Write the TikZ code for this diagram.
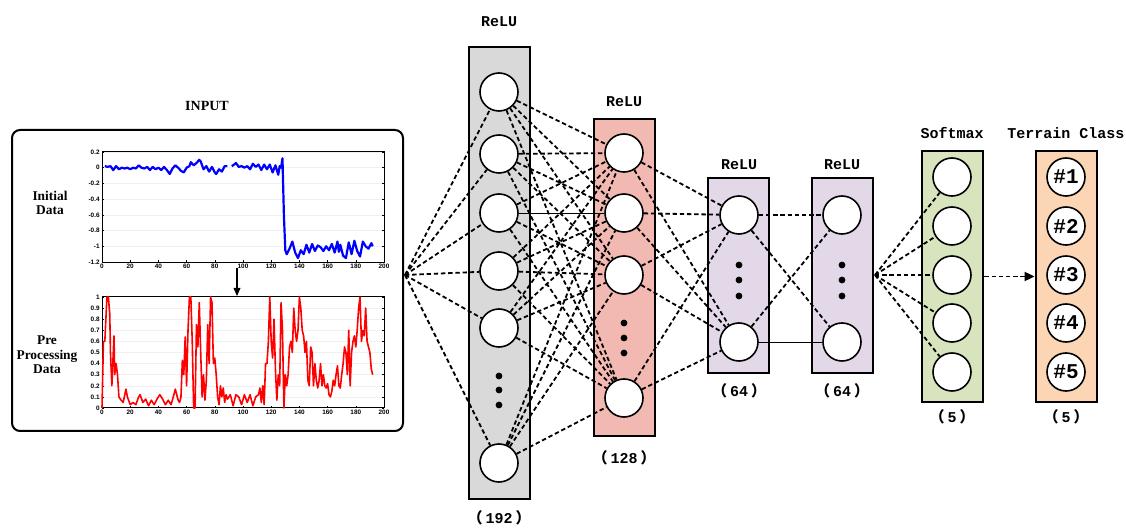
\documentclass[tikz,border=0pt]{standalone}
\usepackage{fontspec}
\setmainfont{Liberation Serif}
\newfontfamily\monofont{Liberation Mono}
\newfontfamily\cjkfont{Noto Sans CJK SC}
\newfontfamily\tickfont{Liberation Sans}
\usetikzlibrary{arrows.meta}

\definecolor{layergray}{RGB}{217,217,217}
\definecolor{layerpink}{RGB}{242,184,178}
\definecolor{layerpurple}{RGB}{226,216,232}
\definecolor{layergreen}{RGB}{215,228,189}
\definecolor{layerorange}{RGB}{252,213,180}

% layer size in full-width brackets
\newcommand{\units}[1]{{\cjkfont （}\hspace{0.2em}#1\hspace{0.2em}{\cjkfont ）}}

\begin{document}
\begin{tikzpicture}[x=0.5pt,y=-0.5pt,
    layer/.style={draw=black, line width=1.4pt, minimum width=30.5pt, inner sep=0pt},
    neuron/.style={circle, draw=black, line width=0.8pt, fill=white, minimum size=19pt, inner sep=0pt},
    link/.style={line width=0.9pt, dash pattern=on 2.2pt off 1.4pt},
    wire/.style={line width=0.45pt},
    lbl/.style={font=\monofont\bfseries\fontsize{7.5}{8}\selectfont},
    side/.style={font=\bfseries\fontsize{6.7}{7.2}\selectfont, align=center},
    tick/.style={font=\tickfont\bfseries\fontsize{3.2}{3.5}\selectfont, inner sep=1pt}]
    \useasboundingbox (0,0) rectangle (1126,529);
    %\draw[help lines,step=50] (0,0) grid (1126,529); % Only for Development

    % ---------------- input panel ----------------
    \node[side, font=\bfseries\fontsize{7}{8}\selectfont] (inputlbl) at (207,106) {INPUT};
    \node[draw=black, line width=1pt, rounded corners=4pt,
      minimum width=195.5pt, minimum height=150.5pt] (inputbox) at (207.5,280.5) {};
    \node[side] (initlbl) at (50,203) {Initial\\Data};
    \node[side] (prelbl) at (47,355) {Pre\\Processing\\Data};

    % raw signal
    \begin{scope}[shift={(102,167.7)}, xscale=1.41, yscale=-78.6]
      \foreach \v in {0.2,0,-0.2,-0.4,-0.6,-0.8,-1,-1.2}
        \draw[gray!12, line width=0.3pt] (0,\v) -- (200,\v);
      \foreach \v/\t in {0.2/0.2, 0/0, -0.2/-0.2, -0.4/-0.4, -0.6/-0.6, -0.8/-0.8, -1/-1, -1.2/-1.2}{
        \draw[line width=0.3pt] (0,\v) -- (1.4,\v) (200,\v) -- (198.6,\v);
        \node[tick, anchor=east] at (0,\v) {\t};
      }
      \foreach \u in {0,20,...,200}{
        \draw[line width=0.3pt] (\u,-1.2) -- (\u,-1.175);
        \node[tick, anchor=north] at (\u,-1.2) {\u};
      }
      \draw[line width=0.5pt] (0,-1.2) rectangle (200,0.2);
      \draw[blue, line width=1.1pt, line join=round] plot coordinates {
        (2,0.02) (4,0.01) (6,0.02) (8,-0.03) (10,0.02) (12,-0.02) (14,0) (16,-0.01)
        (18,0) (20,-0.02) (22,0) (24,-0.01) (26,0.03) (28,0) (30,-0.01) (32,0.01)
        (34,-0.03) (36,0.01) (38,-0.02) (40,0) (42,-0.03) (44,0.01) (46,-0.03) (48,-0.08)
        (50,-0.01) (52,0.03) (54,0) (56,-0.04) (58,-0.06) (60,0) (62,0.02) (63,0.07)
        (65,0.03) (67,0.06) (69,0.1) (70,0.08) (72,-0.02) (74,0.02) (76,-0.05) (78,0.01)
        (80,-0.06) (81,-0.08) (83,-0.02) (85,-0.05) (87,0.02) (89,0.02)};
      \draw[blue, line width=1.1pt, line join=round] plot coordinates {
        (92,0.02) (93,0.03) (95,0.06) (97,0.01) (99,0.02) (101,0) (103,0.02) (105,-0.02)
        (107,0.05) (109,0.01) (111,0.04) (113,-0.03) (115,0.04) (117,-0.02) (119,0.04)
        (121,-0.06) (123,0.03) (125,-0.09) (126,0.02) (127,0) (128,0.12) (129,-0.6)
        (130,-1.05) (131,-1.1) (133,-1.03) (135,-0.94) (137,-1.08) (139,-1.15) (141,-1.05)
        (143,-1.1) (145,-0.98) (147,-1.08) (149,-0.97) (151,-1.06) (153,-0.99) (155,-1.01)
        (157,-1.06) (159,-1) (161,-1.05) (163,-0.97) (165,-1.08) (167,-0.94) (168,-1.07)
        (169,-0.98) (171,-1.12) (173,-1.15) (175,-0.95) (177,-1.1) (179,-0.93) (181,-1.06)
        (183,-1.13) (185,-0.94) (187,-1) (189,-1.03) (191,-0.96) (192,-1)};
    \end{scope}

    \coordinate (plotA) at (237,268);
    \coordinate (plotB) at (237,296);
    \draw[line width=0.6pt, -{Triangle[length=4pt,width=3.4pt]}] (plotA) -- (plotB);

    % normalised signal
    \begin{scope}[shift={(102,408)}, xscale=1.41, yscale=-111]
      \foreach \v in {0.1,0.2,...,0.9}
        \draw[gray!12, line width=0.3pt] (0,\v) -- (200,\v);
      \foreach \v in {0,0.1,0.2,0.3,0.4,0.5,0.6,0.7,0.8,0.9,1}{
        \draw[line width=0.3pt] (0,\v) -- (1.4,\v) (200,\v) -- (198.6,\v);
        \node[tick, anchor=east] at (0,\v) {\v};
      }
      \foreach \u in {0,20,...,200}{
        \draw[line width=0.3pt] (\u,0) -- (\u,0.018);
        \node[tick, anchor=north] at (\u,0) {\u};
      }
      \draw[line width=0.5pt] (0,0) rectangle (200,1);
      \draw[red, line width=0.8pt, line join=round] plot coordinates {
        (0,0) (1,0.6) (2,0.6) (3.5,1) (4.5,1) (5.5,0.85) (6,0.5) (7,0.2) (8,0.5) (8.5,0.65)
        (9,0.3) (10,0.4) (11,0.3) (12,0.1) (13,0.08) (15,0.05) (17,0.17) (18,0.1) (20,0.03)
        (22,0.05) (24,0.03) (26,0.1) (27,0.12) (29,0.05) (31,0.08) (33,0.02) (35,0.07)
        (37,0.03) (39,0.08) (41,0.12) (43,0.08) (45,0.03) (47,0.07) (49,0.03) (51,0.12)
        (52,0.17) (54,0.07) (55,0.05) (56,0.1) (57,0.43) (58,0.3) (59,0.64) (60,0.2)
        (61,0.7) (62,1) (63,1) (64,0.6) (65,0) (66,0) (67,0.75) (68,0.55) (69,0.95)
        (70,0.5) (71,0.1) (72,0.3) (73,0.07) (74,0.25) (75,0.75) (76,0.4) (77,1) (78,0.95)
        (79,0.4) (80,0.45) (81,0.3) (82,0.1) (83,0.03) (84,0.2) (85,0.1) (86,0.18)
        (87,0.05) (88,0.12) (89,0.08) (91,0.12) (93,0.02) (95,0.12) (97,0.1) (99,0.03)
        (101,0.12) (103,0.05) (105,0.12) (107,0.02) (109,0.1) (111,0.12) (112,0.18)
        (113,0.05) (114,0.2) (115,0.03) (116,0.4) (117,0.4) (118,0.6) (119,1) (120,0.6)
        (121,0.45) (122,0.8) (123,0.35) (124,0.07) (125,0.3) (126,0.2) (127,0.95)
        (128,0.7) (129,0) (130,0.3) (131,0.2) (132,0.3) (133,0.55) (134,0.6) (135,0.5)
        (136,0.9) (137,0.7) (138,0.6) (139,0.7) (140,1) (141,0.9) (142,0.7) (143,0.65)
        (144,0.5) (145,0.6) (146,0.25) (147,0.2) (148,0.55) (149,0.5) (150,0.2) (151,0.4)
        (152,0.25) (153,0.18) (154,0.25) (155,0.4) (156,0.2) (157,0.3) (158,0.2)
        (159,0.18) (160,0.22) (161,0.12) (162,0.1) (163,0.15) (164,0.25) (165,0.2)
        (166,0.3) (167,0.38) (168,0.2) (169,0.18) (170,0.3) (171,0.4) (172,0.55)
        (173,0.5) (174,0.3) (175,0.7) (176,0.2) (177,0.5) (178,0.6) (179,0.65) (180,0.55)
        (181,0.7) (182,0.9) (183,1) (184,0.6) (185,0.7) (186,0.65) (187,0.9) (188,0.6)
        (189,0.55) (190,0.5) (191,0.35) (192,0.3)};
    \end{scope}

    % ---------------- layers ----------------
    \node[layer, fill=layergray, minimum height=226pt] (box1) at (499.5,273) {};
    \node[layer, fill=layerpink, minimum height=158.5pt] (box2) at (624.5,277.5) {};
    \node[layer, fill=layerpurple, minimum height=97.5pt] (box3) at (738.5,275.5) {};
    \node[layer, fill=layerpurple, minimum height=97.5pt] (box4) at (842.5,275.5) {};
    \node[layer, fill=layergreen, minimum height=125.5pt] (box5) at (952.5,276.5) {};
    \node[layer, fill=layerorange, minimum height=125.5pt] (box6) at (1066.5,276.5) {};

    \node[lbl] (act1) at (499,22) {ReLU};
    \node[lbl] (act2) at (624,102) {ReLU};
    \node[lbl] (act3) at (739,165) {ReLU};
    \node[lbl] (act4) at (842,165) {ReLU};
    \node[lbl] (act5) at (952,133) {Softmax};
    \node[lbl] (act6) at (1066,133) {Terrain Class};

    \node[lbl] (size1) at (499,518) {\units{192}};
    \node[lbl] (size2) at (624,458) {\units{128}};
    \node[lbl] (size3) at (739,391) {\units{64}};
    \node[lbl] (size4) at (842,391) {\units{64}};
    \node[lbl] (size5) at (952,417) {\units{5}};
    \node[lbl] (size6) at (1066,417) {\units{5}};

    % neurons
    \node[neuron] (a1) at (499,92) {};
    \node[neuron] (a2) at (499,154) {};
    \node[neuron] (a3) at (499,213) {};
    \node[neuron] (a4) at (499,271) {};
    \node[neuron] (a5) at (499,328) {};
    \node[neuron] (a6) at (499,463) {};
    \fill (499,376) circle (1.7pt) (499,390) circle (1.7pt) (499,405) circle (1.7pt);

    \node[neuron] (b1) at (624,153) {};
    \node[neuron] (b2) at (624,213) {};
    \node[neuron] (b3) at (624,275) {};
    \node[neuron] (b4) at (624,398) {};
    \fill (624,323) circle (1.7pt) (624,338) circle (1.7pt) (624,353) circle (1.7pt);

    \node[neuron] (c1) at (739,215) {};
    \node[neuron] (c2) at (739,342) {};
    \fill (739,265) circle (1.7pt) (739,280) circle (1.7pt) (739,296) circle (1.7pt);

    \node[neuron] (d1) at (842,215) {};
    \node[neuron] (d2) at (842,342) {};
    \fill (842,265) circle (1.7pt) (842,280) circle (1.7pt) (842,296) circle (1.7pt);

    \node[neuron] (e1) at (952,177) {};
    \node[neuron] (e2) at (952,226) {};
    \node[neuron] (e3) at (952,275) {};
    \node[neuron] (e4) at (952,323) {};
    \node[neuron] (e5) at (952,372) {};

    \node[neuron, font=\monofont\bfseries\fontsize{10.5}{11}\selectfont] (f1) at (1066,177) {\#1};
    \node[neuron, font=\monofont\bfseries\fontsize{10.5}{11}\selectfont] (f2) at (1066,226) {\#2};
    \node[neuron, font=\monofont\bfseries\fontsize{10.5}{11}\selectfont] (f3) at (1066,275) {\#3};
    \node[neuron, font=\monofont\bfseries\fontsize{10.5}{11}\selectfont] (f4) at (1066,323) {\#4};
    \node[neuron, font=\monofont\bfseries\fontsize{10.5}{11}\selectfont] (f5) at (1066,372) {\#5};

    % ---------------- connections ----------------
    \coordinate (inpt) at (405,275);
    \coordinate (fan) at (875,275);

    \foreach \a in {1,...,6}
      \draw[link] (inpt) -- (a\a);

    \foreach \a in {1,2,4,5,6}
      \foreach \b in {1,...,4}
        \draw[link] (a\a) -- (b\b);
    \foreach \b in {1,3,4}
      \draw[link] (a3) -- (b\b);
    \draw[wire] (a3) -- (b2);

    \foreach \a in {1,...,4}
      \foreach \b in {1,2}
        \draw[link] (b\a) -- (c\b);

    \draw[link] (c1) -- (d1);
    \draw[link] (c1) -- (d2);
    \draw[link] (c2) -- (d1);
    \draw[wire] (c2) -- (d2);

    \foreach \b in {1,...,5}
      \draw[link] (fan) -- (e\b);

    \draw[link, -{Triangle[length=5pt,width=4.5pt]}] (box5) -- (box6);

\end{tikzpicture}
\end{document}
